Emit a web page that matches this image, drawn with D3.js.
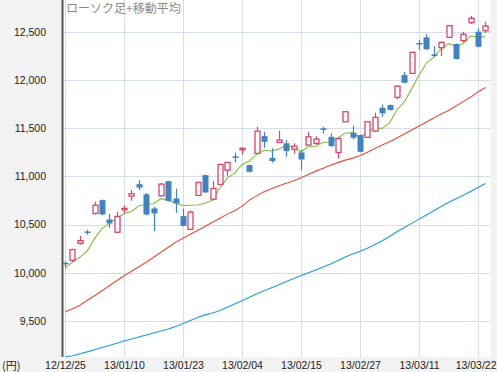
<!DOCTYPE html>
<html><head><meta charset="utf-8">
<script src="https://cdn.jsdelivr.net/npm/d3@7"></script>
<style>
html,body{margin:0;padding:0;background:#f2f2f2;}
svg{display:block;}
</style></head>
<body>
<svg id="chart" width="497" height="372"></svg>
<script>
const dates = ["12/12/25","12/12/26","12/12/27","12/12/28","13/01/04","13/01/07","13/01/08","13/01/09","13/01/10","13/01/11",
"13/01/15","13/01/16","13/01/17","13/01/18","13/01/21","13/01/22","13/01/23","13/01/24","13/01/25","13/01/28",
"13/01/29","13/01/30","13/01/31","13/02/01","13/02/04","13/02/05","13/02/06","13/02/07","13/02/08","13/02/12",
"13/02/13","13/02/14","13/02/15","13/02/18","13/02/19","13/02/20","13/02/21","13/02/22","13/02/25","13/02/26",
"13/02/27","13/02/28","13/03/01","13/03/04","13/03/05","13/03/06","13/03/07","13/03/08","13/03/11","13/03/12",
"13/03/13","13/03/14","13/03/15","13/03/18","13/03/19","13/03/21","13/03/22","13/03/25"];
const openV = [10095,10130,10305,10420,10615,10753,10552,10420,10650,10795,
10919,10813,10667,10798,10950,10771,10587,10450,10802,11012,
10763,10916,11064,11200,11275,11116,11238,11417,11192,11352,
11342,11282,11248,11324,11342,11490,11410,11248,11566,11452,
11428,11404,11469,11711,11739,11819,12050,12068,12375,12442,
12265,12334,12442,12372,12407,12594,12500,12510];
const highV = [10120,10250,10380,10445,10737,10760,10608,10632,10700,10857,
10960,10826,10685,10930,10955,10872,10667,10649,10945,11020,
10952,11130,11150,11248,11300,11120,11514,11462,11290,11472,
11376,11342,11272,11456,11417,11514,11445,11400,11675,11524,
11435,11572,11659,11746,11745,11942,12085,12292,12414,12473,
12352,12395,12568,12378,12500,12663,12535,12604];
const lowV = [10060,10112,10290,10395,10605,10597,10467,10412,10618,10748,
10857,10597,10434,10790,10740,10620,10480,10445,10795,10828,
10758,10910,11002,11144,11227,11040,11232,11296,11140,11345,
11202,11238,11064,11318,11324,11445,11308,11186,11560,11383,
11250,11398,11462,11618,11682,11798,11965,12062,12310,12312,
12234,12248,12436,12212,12390,12580,12340,12483];
const closeV = [10085,10240,10333,10412,10700,10605,10511,10584,10660,10820,
10883,10604,10615,10919,10746,10719,10486,10628,10937,10833,
10874,11123,11144,11192,11283,11047,11469,11358,11158,11376,
11262,11313,11175,11410,11386,11484,11313,11393,11670,11400,
11254,11566,11611,11653,11687,11936,11971,12286,12365,12317,
12248,12390,12562,12217,12473,12639,12344,12559];
const ma5 = [10045,10110,10160,10225,10354,10458,10512,10562,10612,10636,
10692,10710,10716,10768,10753,10721,10697,10700,10703,10721,
10752,10879,10982,11033,11123,11158,11227,11270,11263,11282,
11325,11293,11257,11307,11309,11354,11354,11397,11449,11452,
11406,11457,11500,11497,11554,11691,11772,11907,12049,12175,
12237,12321,12376,12347,12378,12456,12447,12446];
const ma25 = [9593,9626,9663,9715,9762,9813,9865,9917,9969,10016,
10062,10109,10161,10213,10265,10317,10358,10400,10441,10483,
10524,10566,10608,10644,10691,10753,10800,10841,10872,10903,
10929,10955,10986,11020,11054,11085,11116,11142,11168,11189,
11215,11251,11288,11324,11358,11397,11438,11480,11521,11563,
11604,11646,11682,11729,11775,11822,11874,11921];
const ma75 = [9128,9139,9160,9179,9201,9224,9246,9269,9292,9312,
9333,9354,9374,9395,9416,9442,9474,9504,9535,9563,
9583,9608,9642,9675,9710,9746,9782,9813,9845,9876,
9909,9941,9971,10000,10029,10059,10091,10128,10164,10194,
10223,10255,10294,10331,10376,10425,10469,10512,10556,10599,
10644,10686,10728,10768,10805,10843,10883,10925];
const yTicks = [9500,10000,10500,11000,11500,12000,12500];
const xTickLabels = ["12/12/25","13/01/10","13/01/23","13/02/04","13/02/15","13/02/27","13/03/11","13/03/22"];
const titleText = "ローソク足+移動平均";
const unitText = "(円)";

const svg = d3.select("#chart");
const plotL = 62, plotR = 490.5, plotT = 0, plotB = 357;

const x = d3.scalePoint().domain(dates).range([65, 485.4]);
const y = d3.scaleLinear().domain([9126, 12829]).range([plotB, plotT]);

// plot background
svg.append("rect").attr("x", plotL).attr("y", plotT).attr("width", plotR - plotL).attr("height", plotB - plotT).attr("fill", "#ffffff");

svg.append("defs").append("clipPath").attr("id", "clip")
  .append("rect").attr("x", plotL).attr("y", plotT).attr("width", plotR - plotL).attr("height", plotB - plotT);

// grid
const grid = svg.append("g");
grid.selectAll("line.h").data(yTicks).join("line")
  .attr("x1", plotL).attr("x2", plotR)
  .attr("y1", d => Math.round(y(d)) + 0.5).attr("y2", d => Math.round(y(d)) + 0.5)
  .attr("stroke", "#d3deea").attr("stroke-width", 1);
grid.selectAll("line.v").data(xTickLabels).join("line")
  .attr("x1", d => Math.round(x(d)) + 0.5).attr("x2", d => Math.round(x(d)) + 0.5)
  .attr("y1", plotT).attr("y2", plotB)
  .attr("stroke", "#d3deea").attr("stroke-width", 1);

// title
svg.append("text").attr("x", 66).attr("y", 13)
  .attr("font-family", "'Noto Sans CJK JP', sans-serif").attr("font-size", 12)
  .attr("fill", "#8a8a8a").text(titleText);

const body = svg.append("g").attr("clip-path", "url(#clip)");

// moving averages
const line = arr => d3.line().x((d, i) => x(dates[i])).y(d => y(d))(arr);
body.append("path").attr("d", line(ma75)).attr("fill", "none").attr("stroke", "#1a9ed8").attr("stroke-width", 1.1);
body.append("path").attr("d", line(ma25)).attr("fill", "none").attr("stroke", "#ee4a36").attr("stroke-width", 1.1);
body.append("path").attr("d", line(ma5)).attr("fill", "none").attr("stroke", "#80bf3a").attr("stroke-width", 1.1);

// candles
const candles = dates.map((d, i) => ({d, o: openV[i], h: highV[i], l: lowV[i], c: closeV[i]}));
const red = "#d9466a", blue = "#3f83c0";
const cg = body.selectAll("g.c").data(candles).join("g");
cg.append("line")
  .attr("x1", d => Math.round(x(d.d)) + 0.5).attr("x2", d => Math.round(x(d.d)) + 0.5)
  .attr("y1", d => y(d.h)).attr("y2", d => y(d.l))
  .attr("stroke", d => d.c >= d.o ? red : blue).attr("stroke-width", 1.2);
cg.append("rect")
  .attr("x", d => Math.round(x(d.d)) + 0.5 - (d.c >= d.o ? 2.5 : 3))
  .attr("width", d => d.c >= d.o ? 5 : 6)
  .attr("y", d => Math.min(y(d.o), y(d.c)) - (Math.abs(y(d.o) - y(d.c)) < 1.5 ? 0.75 : 0))
  .attr("height", d => Math.max(1.5, Math.abs(y(d.o) - y(d.c))))
  .attr("fill", d => d.c >= d.o ? "#ffffff" : blue)
  .attr("stroke", d => d.c >= d.o ? red : "none")
  .attr("stroke-width", 1.3);

// y axis
const yAxis = svg.append("g").attr("transform", `translate(${plotL},0)`)
  .call(d3.axisLeft(y).tickValues(yTicks).tickFormat(d3.format(",")).tickSize(0).tickPadding(16));
yAxis.select(".domain").remove();
yAxis.selectAll("text").attr("font-family", "'Liberation Sans', Arial, sans-serif").attr("font-size", 10.5).attr("fill", "#222");
svg.append("line").attr("x1", plotL + 0.5).attr("x2", plotL + 0.5).attr("y1", plotT).attr("y2", plotB)
  .attr("stroke", "#555").attr("stroke-width", 2);

// x axis
const xAxis = svg.append("g").attr("transform", `translate(0,${plotB})`)
  .call(d3.axisBottom(x).tickValues(xTickLabels).tickSize(0).tickPadding(5));
xAxis.select(".domain").remove();
xAxis.selectAll("text").attr("font-family", "'Liberation Sans', Arial, sans-serif").attr("font-size", 10.5).attr("fill", "#222");
// keep the last label inside the picture
xAxis.selectAll("text").filter(d => d === xTickLabels[xTickLabels.length - 1])
  .attr("text-anchor", "end").attr("x", 496 - x(xTickLabels[xTickLabels.length - 1]));

svg.append("text").attr("x", 2).attr("y", 370)
  .attr("font-family", "'Noto Sans CJK JP', sans-serif").attr("font-size", 11)
  .attr("fill", "#222").text(unitText);
</script>
</body></html>
